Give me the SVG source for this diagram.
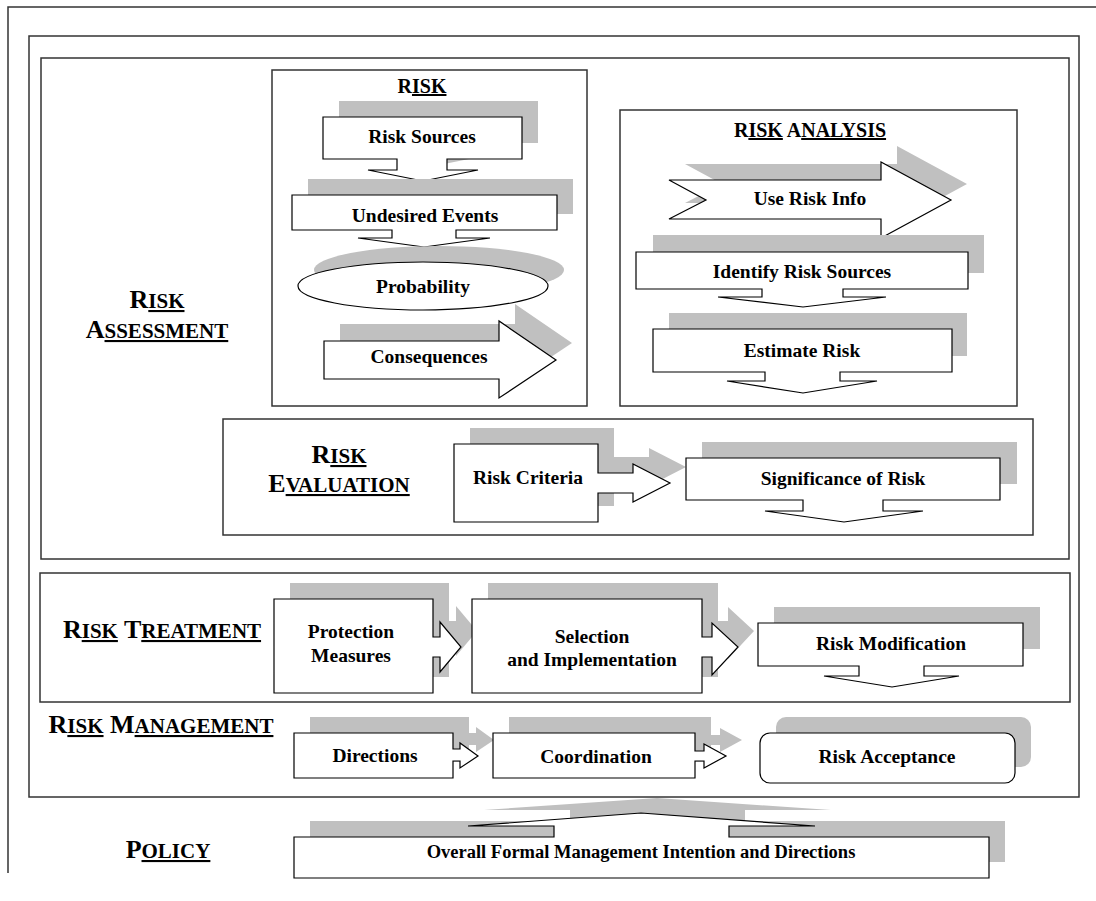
<svg xmlns="http://www.w3.org/2000/svg" width="1096" height="901" viewBox="0 0 1096 901">
  <style>
    .frame { fill: none; stroke: #333; stroke-width: 1.5; }
    .node { fill: #fff; stroke: #000; stroke-width: 1.2; stroke-linejoin: miter; }
    .shadow { fill: #c0c0c0; stroke: none; }
    .lbl { font-family: "Liberation Serif", "Times New Roman", serif; font-weight: bold; font-size: 19.5px; fill: #000; text-anchor: middle; }
    .ttl { font-family: "Liberation Serif", "Times New Roman", serif; font-weight: bold; font-size: 20px; fill: #000; text-anchor: middle; }
    .sec { font-family: "Liberation Serif", "Times New Roman", serif; font-weight: bold; font-size: 26px; fill: #000; text-anchor: middle; }
    .sc { font-size: 21px; text-decoration: underline; }
    .ul { text-decoration: underline; }
  </style>

  <rect width="1096" height="901" fill="#fff"/>

  <!-- frames -->
  <g id="frames">
    <path class="frame" d="M8,873 V7 H1096"/>
    <rect class="frame" x="29" y="36" width="1050" height="761"/>
    <rect class="frame" x="41" y="58" width="1028" height="501"/>
    <rect class="frame" x="40" y="573" width="1030" height="129"/>
    <rect class="frame" x="272" y="70" width="315" height="336"/>
    <rect class="frame" x="620" y="110" width="397" height="296"/>
    <rect class="frame" x="223" y="419" width="810" height="116"/>
  </g>

  <!-- section labels -->
  <g id="section-labels">
    <text class="sec" x="157" y="308">R<tspan class="sc">ISK</tspan></text>
    <text class="sec" x="157" y="338">A<tspan class="sc">SSESSMENT</tspan></text>
    <text class="sec" x="339" y="463">R<tspan class="sc">ISK</tspan></text>
    <text class="sec" x="339" y="492">E<tspan class="sc">VALUATION</tspan></text>
    <text class="sec" x="162" y="638">R<tspan class="sc">ISK</tspan> T<tspan class="sc">REATMENT</tspan></text>
    <text class="sec" x="161" y="733">R<tspan class="sc">ISK</tspan> M<tspan class="sc">ANAGEMENT</tspan></text>
    <text class="sec" x="168" y="858">P<tspan class="sc">OLICY</tspan></text>
    <text class="ttl" x="422" y="93">R<tspan class="ul">ISK</tspan></text>
    <text class="ttl" x="810" y="137">R<tspan class="ul">ISK</tspan> A<tspan class="ul">NALYSIS</tspan></text>
  </g>

  <!-- RISK column -->
  <g id="risk-sources">
    <path class="shadow" d="M339,101 H538 V143 H463 V154 H494 L439,165 L384,154 H413 V143 H339 Z"/>
    <path class="node" d="M323,117 H522 V159 H447 V170 H478 L423,181 L368,170 H397 V159 H323 Z"/>
    <text class="lbl" x="422" y="143">Risk Sources</text>
  </g>
  <g id="undesired-events">
    <path class="shadow" d="M308,179 H573 V214 H472 V222 H506 L440,231 L374,222 H408 V214 H308 Z"/>
    <path class="node" d="M292,195 H557 V230 H456 V238 H490 L424,247 L358,238 H392 V230 H292 Z"/>
    <text class="lbl" x="425" y="222">Undesired Events</text>
  </g>
  <g id="probability">
    <ellipse class="shadow" cx="439" cy="270" rx="125" ry="24"/>
    <ellipse class="node" cx="423" cy="286" rx="125" ry="24"/>
    <text class="lbl" x="423" y="293">Probability</text>
  </g>
  <g id="consequences">
    <path class="shadow" d="M340,324 H515 V304 L572,343 L515,381 V362 H340 Z"/>
    <path class="node" d="M324,341 H499 V321 L556,360 L499,398 V379 H324 Z"/>
    <text class="lbl" x="429" y="363">Consequences</text>
  </g>

  <!-- RISK ANALYSIS column -->
  <g id="use-risk-info">
    <path class="shadow" d="M685,164 H897 V146 L967,184 L897,222 V203 H685 L722,184 Z"/>
    <path class="node" d="M669,180 H881 V162 L951,200 L881,238 V219 H669 L706,200 Z"/>
    <text class="lbl" x="810" y="205">Use Risk Info</text>
  </g>
  <g id="identify-risk-sources">
    <rect class="shadow" x="653" y="235" width="331" height="38"/>
    <path class="node" d="M636,252 H968 V289 H843 V297 H886 L803,307 L718,297 H762 V289 H636 Z"/>
    <text class="lbl" x="802" y="278">Identify Risk Sources</text>
  </g>
  <g id="estimate-risk">
    <rect class="shadow" x="669" y="313" width="298" height="43"/>
    <path class="node" d="M653,329 H952 V372 H840 V381 H877 L803,393 L727,381 H765 V372 H653 Z"/>
    <text class="lbl" x="802" y="357">Estimate Risk</text>
  </g>

  <!-- RISK EVALUATION -->
  <g id="risk-criteria">
    <path class="shadow" d="M470,428 H614 V457 H649 V448 L686,467 L649,486 V477 H614 V506 H470 Z"/>
    <path class="node" d="M454,444 H598 V473 H633 V464 L670,483 L633,502 V493 H598 V522 H454 Z"/>
    <text class="lbl" x="528" y="484">Risk Criteria</text>
  </g>
  <g id="significance-of-risk">
    <rect class="shadow" x="702" y="442" width="315" height="42"/>
    <path class="node" d="M686,458 H1000 V500 H883 V511 H923 L844,522 L765,511 H803 V500 H686 Z"/>
    <text class="lbl" x="843" y="485">Significance of Risk</text>
  </g>

  <!-- RISK TREATMENT -->
  <g id="protection-measures">
    <path class="shadow" d="M290,583 H449 V621 H456 V606 L477,631 L456,656 V641 H449 V677 H290 Z"/>
    <path class="node" d="M274,599 H433 V637 H440 V622 L461,647 L440,672 V657 H433 V693 H274 Z"/>
    <text class="lbl" x="351" y="638">Protection</text>
    <text class="lbl" x="351" y="662">Measures</text>
  </g>
  <g id="selection-implementation">
    <path class="shadow" d="M488,583 H718 V621 H728 V607 L754,631 L728,659 V641 H718 V677 H488 Z"/>
    <path class="node" d="M472,599 H702 V637 H712 V623 L738,647 L712,675 V657 H702 V693 H472 Z"/>
    <text class="lbl" x="592" y="643">Selection</text>
    <text class="lbl" x="592" y="666">and Implementation</text>
  </g>
  <g id="risk-modification">
    <rect class="shadow" x="774" y="607" width="266" height="42"/>
    <path class="node" d="M758,623 H1023 V666 H924 V676 H959 L892,687 L824,676 H859 V666 H758 Z"/>
    <text class="lbl" x="891" y="650">Risk Modification</text>
  </g>

  <!-- RISK MANAGEMENT -->
  <g id="directions">
    <path class="shadow" d="M310,717 H469 V733 H476 V727 L494,740 L476,752 V745 H469 V762 H310 Z"/>
    <path class="node" d="M294,733 H453 V749 H460 V743 L478,756 L460,768 V761 H453 V778 H294 Z"/>
    <text class="lbl" x="375" y="762">Directions</text>
  </g>
  <g id="coordination">
    <path class="shadow" d="M509,717 H711 V735 H720 V728 L742,740 L720,752 V745 H711 V762 H509 Z"/>
    <path class="node" d="M493,733 H695 V751 H704 V744 L726,756 L704,768 V761 H695 V778 H493 Z"/>
    <text class="lbl" x="596" y="763">Coordination</text>
  </g>
  <g id="risk-acceptance">
    <rect class="shadow" x="776" y="717" width="255" height="50" rx="10"/>
    <rect class="node" x="760" y="733" width="255" height="50" rx="10"/>
    <text class="lbl" x="887" y="763">Risk Acceptance</text>
  </g>

  <!-- POLICY -->
  <g id="policy">
    <path class="shadow" d="M310,821 H1005 V862 H310 Z M570,821 V810 H484 L657,798 L831,810 H745 V821 Z"/>
    <path class="node" d="M294,837 H554 V826 H468 L641,813 L815,826 H729 V837 H989 V878 H294 Z"/>
    <text class="lbl" x="641" y="858" style="font-size:18.5px">Overall Formal Management Intention and Directions</text>
  </g>
</svg>
